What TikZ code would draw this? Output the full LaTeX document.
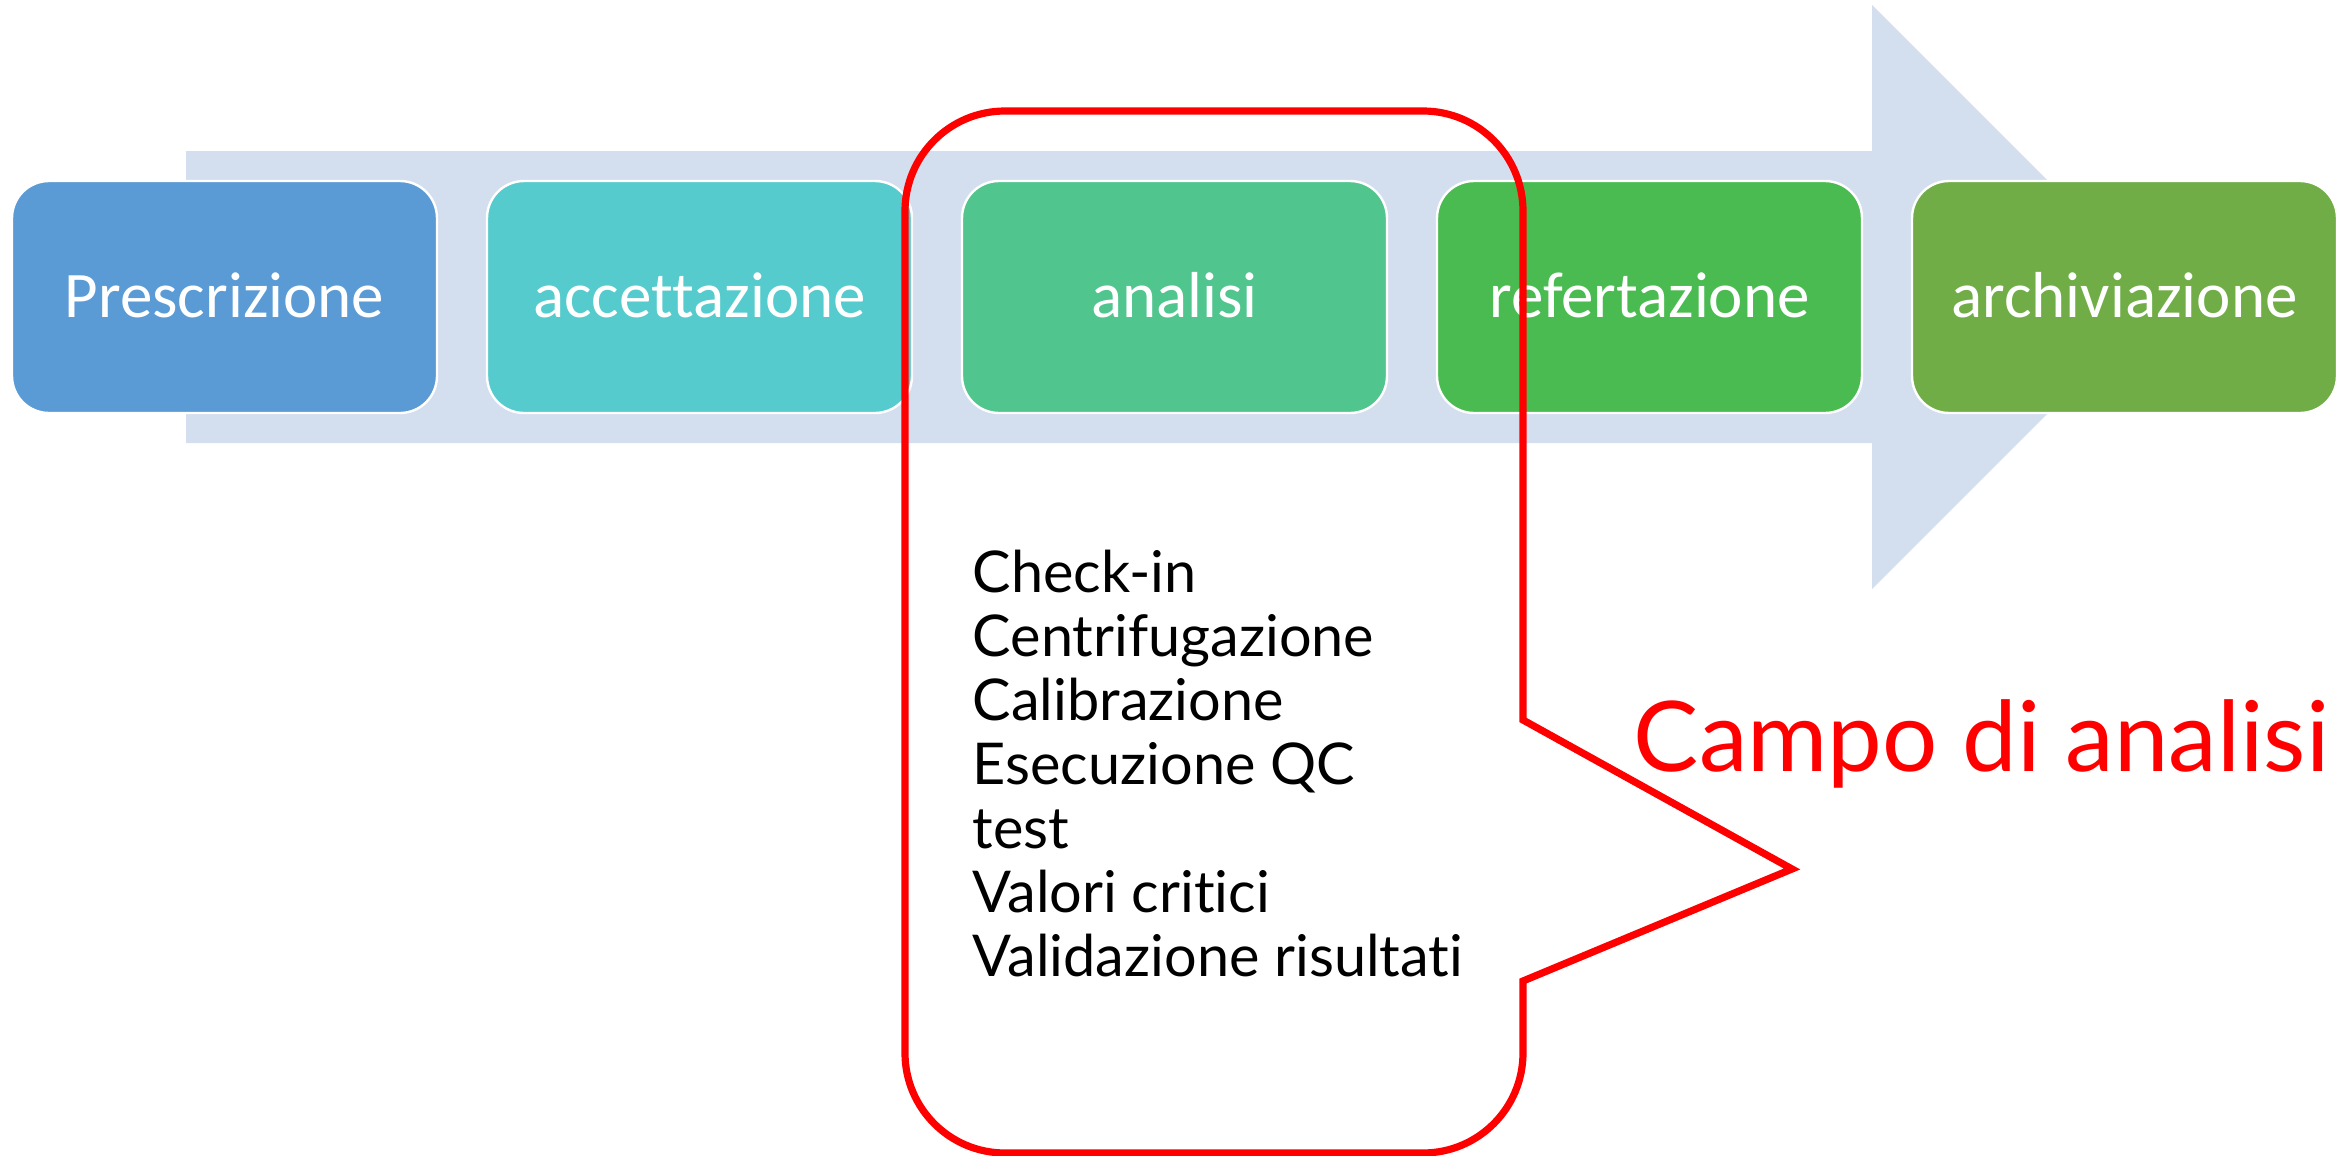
\documentclass[tikz,border=0pt]{standalone}
\usepackage{fontspec}
\setmainfont[Ligatures=NoCommon]{Carlito}
\newfontfamily\handfont[Ligatures=NoCommon]{Lato}

\definecolor{band}{HTML}{D3DEEF}
\definecolor{stepA}{HTML}{5B9BD5}
\definecolor{stepB}{HTML}{55CBCD}
\definecolor{stepC}{HTML}{50C58E}
\definecolor{stepD}{HTML}{4ABB50}
\definecolor{stepE}{HTML}{70AD47}
\definecolor{callred}{HTML}{FF0000}

\begin{document}
\begin{tikzpicture}[x=0.25pt, y=-0.25pt,
  stage/.style={draw=white, line width=0.6pt, rounded corners=9.25pt,
    minimum width=106.25pt, minimum height=58pt, inner sep=0pt,
    text=white, text height=10.47pt, text depth=0pt,
    font=\fontsize{16.25}{19.5}\selectfont},
  listtext/.style={anchor=base west, inner sep=0pt, text=black,
    font=\handfont\fontsize{14.4}{16}\selectfont},
  calltext/.style={anchor=base west, inner sep=0pt, text=callred,
    font=\handfont\fontsize{24.4}{29}\selectfont},
  callout/.style={draw=callred, line width=1.8pt, line join=miter}]

\useasboundingbox (0,0) rectangle (2349,1156);

% process arrow in the background
\fill[band] (186,151) -- (1872,151) -- (1872,5) -- (2164,297)
  -- (1872,589) -- (1872,443) -- (186,443) -- cycle;

% process stages
\node[stage, fill=stepA] (pre) at (224.5,297) {Prescrizione};
\node[stage, fill=stepB] (acc) at (699.5,297) {accettazione};
\node[stage, fill=stepC] (ana) at (1174.5,297) {analisi};
\node[stage, fill=stepD] (ref) at (1649.5,297) {refertazione};
\node[stage, fill=stepE] (arc) at (2124.5,297) {archiviazione};

% callout around the analysis phase
\draw[callout] (1523,720) -- (1523,211)
  arc[start angle=0, end angle=90, radius=25pt] -- (1005,111)
  arc[start angle=90, end angle=180, radius=25pt] -- (905,1053)
  arc[start angle=180, end angle=270, radius=25pt] -- (1423,1153)
  arc[start angle=270, end angle=360, radius=25pt] -- (1523,981)
  -- (1792,869) -- cycle;

% activities of the analysis phase
\foreach \t [count=\i from 0] in {Check-in, Centrifugazione, Calibrazione,
    Esecuzione QC, test, Valori critici, Validazione risultati}
  \node[listtext] (item\i) at (972,{592+64*\i}) {\t};

\node[calltext] (campo) at (1633,771) {Campo di analisi};

\end{tikzpicture}
\end{document}
